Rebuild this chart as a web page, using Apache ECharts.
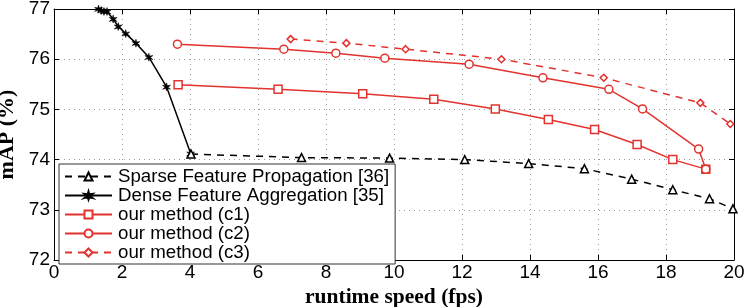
<!DOCTYPE html>
<html><head><meta charset="utf-8">
<script src="https://cdn.jsdelivr.net/npm/echarts@6/dist/echarts.min.js"></script>
<style>html,body{margin:0;padding:0;background:#fff}#c{width:747px;height:307px}</style>
</head><body><div id="c"></div>
<script>
const xTicks = [0,2,4,6,8,10,12,14,16,18,20];
const yTicks = [72,73,74,75,76,77];
const sparseX = [4.03,7.28,9.87,12.08,13.96,15.60,16.99,18.20,19.28,19.97];
const sparseY = [74.11,74.04,74.03,74.00,73.92,73.82,73.61,73.40,73.22,73.02];
const denseX = [1.31,1.39,1.47,1.56,1.74,1.89,2.11,2.41,2.79,3.31,4.02];
const denseY = [77.00,76.97,76.95,76.95,76.80,76.65,76.51,76.32,76.04,75.45,74.12];
const c1X = [3.65,6.59,9.08,11.17,12.98,14.54,15.90,17.15,18.20,19.17];
const c1Y = [75.49,75.40,75.31,75.20,75.01,74.80,74.60,74.30,74.00,73.81];
const c2X = [3.63,6.76,8.29,9.73,12.21,14.38,16.32,17.31,18.96,19.17];
const c2Y = [76.30,76.20,76.12,76.02,75.90,75.63,75.40,75.01,74.21,73.81];
const c3X = [6.96,8.60,10.34,13.16,16.17,19.01,19.89];
const c3Y = [76.40,76.32,76.20,76.00,75.63,75.13,74.71];
const names = ['Sparse Feature Propagation [36]','Dense Feature Aggregation [35]','our method (c1)','our method (c2)','our method (c3)'];

const zip = (xs, ys) => xs.map((x, i) => [x, ys[i]]);
const RED = '#e2332e';
const star = 'path://M5,0 L6,3.5 L10,3 L7,5.5 L10,8 L6,7 L5,10 L4,7 L0,8 L3,5.5 L0,3 L4,3.5 Z';

const chart = echarts.init(document.getElementById('c'), null, {renderer: 'canvas'});
const axisFont = {fontFamily: 'Liberation Sans', fontSize: 19, color: '#000'};
chart.setOption({
  animation: false,
  grid: {left: 54, right: 13, top: 9, bottom: 47, show: false, containLabel: false, outerBoundsMode: 'none'},
  xAxis: [{
    type: 'value', min: 0, max: 20, interval: 2,
    name: 'runtime speed (fps)', nameLocation: 'middle', nameGap: 22,
    nameTextStyle: {fontFamily: 'Liberation Serif', fontWeight: 'bold', fontSize: 21.5, color: '#000'},
    axisLine: {show: true, lineStyle: {color: '#000', width: 1}},
    axisTick: {show: true, inside: true, length: 5, lineStyle: {color: '#000'}},
    axisLabel: Object.assign({margin: 3, formatter: v => xTicks.includes(v) ? String(v) : ''}, axisFont),
    splitLine: {show: true, lineStyle: {color: '#999', type: [1, 4], width: 1}}
  }, {
    type: 'value', min: 0, max: 20, interval: 2, position: 'top',
    axisLine: {show: true, onZero: false, lineStyle: {color: '#000', width: 1}},
    axisTick: {show: true, inside: true, length: 5, lineStyle: {color: '#000'}},
    axisLabel: {show: false}, splitLine: {show: false}
  }],
  yAxis: [{
    type: 'value', min: 72, max: 77, interval: 1,
    name: 'mAP (%)', nameLocation: 'middle', nameGap: 28, nameRotate: 90,
    nameTextStyle: {fontFamily: 'Liberation Serif', fontWeight: 'bold', fontSize: 22, color: '#000'},
    axisLine: {show: true, lineStyle: {color: '#000', width: 1}},
    axisTick: {show: true, inside: true, length: 5, lineStyle: {color: '#000'}},
    axisLabel: Object.assign({margin: 4, formatter: v => yTicks.includes(v) ? String(v) : ''}, axisFont),
    splitLine: {show: true, lineStyle: {color: '#999', type: [1, 4], width: 1}}
  }, {
    type: 'value', min: 72, max: 77, interval: 1, position: 'right',
    axisLine: {show: true, onZero: false, lineStyle: {color: '#000', width: 1}},
    axisTick: {show: true, inside: true, length: 5, lineStyle: {color: '#000'}},
    axisLabel: {show: false}, splitLine: {show: false}
  }],
  legend: {
    orient: 'vertical', left: 59, top: 164,
    backgroundColor: '#fff', borderColor: '#333', borderWidth: 1, borderRadius: 0,
    padding: [3, 6, 2, 5], itemGap: 0, itemWidth: 47, itemHeight: 10,
    textStyle: {fontFamily: 'Liberation Sans', fontSize: 18.7, lineHeight: 18, color: '#000', padding: [0, 0, 0, 1]},
    data: names
  },
  series: [
    {name: names[0], type: 'line', data: zip(sparseX, sparseY), z: 3,
     lineStyle: {color: '#000', width: 1.5, type: [7, 6]},
     symbol: 'triangle', symbolSize: 8, showAllSymbol: true,
     itemStyle: {color: '#fff', borderColor: '#000', borderWidth: 1.5}},
    {name: names[1], type: 'line', data: zip(denseX, denseY), z: 2,
     lineStyle: {color: '#000', width: 1.5},
     symbol: star, symbolSize: 8, showAllSymbol: true,
     itemStyle: {color: '#000', borderColor: '#000', borderWidth: 0.5}},
    {name: names[2], type: 'line', data: zip(c1X, c1Y),
     lineStyle: {color: RED, width: 1.5},
     symbol: 'rect', symbolSize: 8, showAllSymbol: true,
     itemStyle: {color: '#fff', borderColor: RED, borderWidth: 1.5}},
    {name: names[3], type: 'line', data: zip(c2X, c2Y),
     lineStyle: {color: RED, width: 1.5},
     symbol: 'circle', symbolSize: 8, showAllSymbol: true,
     itemStyle: {color: '#fff', borderColor: RED, borderWidth: 1.5}},
    {name: names[4], type: 'line', data: zip(c3X, c3Y),
     lineStyle: {color: RED, width: 1.5, type: [7, 6]},
     symbol: 'diamond', symbolSize: 7, showAllSymbol: true,
     itemStyle: {color: '#fff', borderColor: RED, borderWidth: 1.5}}
  ]
});
</script></body></html>
